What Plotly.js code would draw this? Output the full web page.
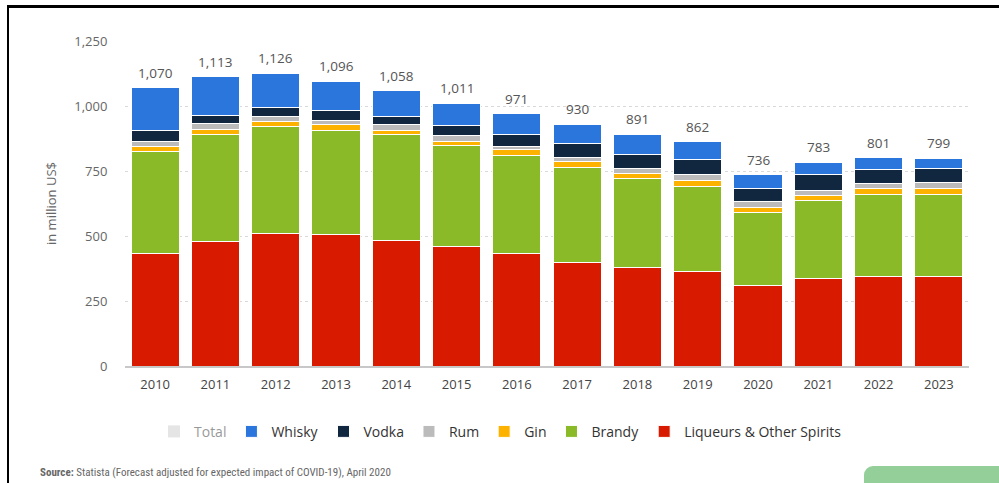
<!DOCTYPE html>
<html>
<head>
<meta charset="utf-8">
<script src="https://cdn.plot.ly/plotly-3.0.1.min.js"></script>
<style>
  html, body { margin: 0; padding: 0; background: #fff; }
  #wrap { position: relative; width: 999px; height: 483px; overflow: hidden; }
  #chart { position: absolute; left: 0; top: 0; width: 999px; height: 483px; }
  #frame { position: absolute; left: 7px; top: 5px; right: -10px; bottom: -10px;
           border-top: 3px solid #000; border-left: 2px solid #000; pointer-events: none; }
  #btn { position: absolute; left: 864px; top: 466px; width: 160px; height: 40px;
         background: #94cf9a; border-radius: 9px; }
</style>
</head>
<body>
<div id="wrap">
  <div id="chart"></div>
  <div id="frame"></div>
  <div id="btn"></div>
</div>
<script>
const years = ['2010','2011','2012','2013','2014','2015','2016','2017','2018','2019','2020','2021','2022','2023'];
const totals = [1070, 1113, 1126, 1096, 1058, 1011, 971, 930, 891, 862, 736, 783, 801, 799];
const liqueurs = [434, 479, 510, 506, 484, 460, 431, 400, 378, 365, 310, 336, 346, 346];
const brandy   = [390, 412, 410, 399, 407, 390, 379, 365, 342, 326, 281, 300, 314, 314];
const gin      = [21, 19, 21, 22, 14, 15, 21, 21, 21, 24, 20, 19, 21, 21];
const rum      = [20, 21, 19, 19, 22, 21, 15, 15, 19, 22, 20, 20, 20, 24];
const vodka    = [40, 33, 35, 35, 33, 39, 44, 54, 55, 58, 50, 61, 54, 55];
const whisky   = [165, 149, 131, 115, 98, 86, 81, 75, 76, 67, 55, 47, 46, 39];
const yTicks = [0, 250, 500, 750, 1000, 1250];
const yTickText = ['0', '250', '500', '750', '1,000', '1,250'];

const series = [
  {name: 'Liqueurs & Other Spirits', y: liqueurs, color: '#d71a00', rank: 7},
  {name: 'Brandy', y: brandy, color: '#8aba28', rank: 6},
  {name: 'Gin', y: gin, color: '#fdb200', rank: 5},
  {name: 'Rum', y: rum, color: '#bbbbbb', rank: 4},
  {name: 'Vodka', y: vodka, color: '#112740', rank: 3},
  {name: 'Whisky', y: whisky, color: '#2a76dc', rank: 2}
];

const fmt = v => v.toLocaleString('en-US');

const traces = series.map(s => ({
  type: 'bar', name: s.name, x: years, y: s.y,
  marker: {color: s.color, line: {color: '#ffffff', width: 1}},
  legendrank: s.rank, hoverinfo: 'x+y+name'
}));

traces.push({
  type: 'bar', name: 'Total', x: years, y: totals, visible: 'legendonly',
  marker: {color: '#cccccc'}, legendrank: 1
});

// category axis: annotation x given as category index
const totalLabels = years.map((yr, i) => ({
  x: i, y: totals[i], xref: 'x', yref: 'y', text: fmt(totals[i]),
  showarrow: false, yanchor: 'bottom', yshift: 4,
  font: {family: 'Open Sans, sans-serif', size: 13.5, color: '#555555'}
}));

const layout = {
  width: 999, height: 483,
  margin: {l: 125, r: 30, t: 41, b: 117},
  paper_bgcolor: '#ffffff', plot_bgcolor: '#ffffff',
  barmode: 'stack', bargap: 0.2,
  font: {family: 'Open Sans, sans-serif', color: '#444444'},
  xaxis: {
    type: 'category', range: [-0.5, 13.5],
    showgrid: false, showline: true, linecolor: '#c8c8c8', linewidth: 1.5,
    ticks: 'outside', ticklen: 6, tickcolor: 'rgba(0,0,0,0)',
    tickfont: {size: 13, color: '#444444'}
  },
  yaxis: {
    range: [0, 1250], tickvals: yTicks, ticktext: yTickText,
    showgrid: true, gridcolor: '#d9d9d9', griddash: 'dot', gridwidth: 1,
    zeroline: false, showline: false,
    ticks: 'outside', ticklen: 14, tickcolor: 'rgba(0,0,0,0)',
    tickfont: {size: 13, color: '#666666'},
    title: {text: 'in million US$', font: {size: 13, color: '#666666'}, standoff: 14}
  },
  legend: {
    orientation: 'h', xref: 'container', yref: 'container',
    x: 0.501, xanchor: 'center', y: 0.106, yanchor: 'middle',
    font: {size: 14, color: '#333333'}, itemclick: false, itemdoubleclick: false,
    traceorder: 'normal', itemwidth: 30
  },
  annotations: totalLabels.concat([{
    xref: 'paper', yref: 'paper', x: -0.103, y: -0.327, xanchor: 'left', yanchor: 'middle',
    text: '<b>Source:</b> Statista (Forecast adjusted for expected impact of COVID-19), April 2020',
    showarrow: false, font: {family: 'Liberation Sans Narrow, Roboto Condensed, Open Sans, sans-serif', size: 11, color: '#666666'}
  }]),
  showlegend: true
};

Plotly.newPlot('chart', traces, layout, {displayModeBar: false});
</script>
</body>
</html>
